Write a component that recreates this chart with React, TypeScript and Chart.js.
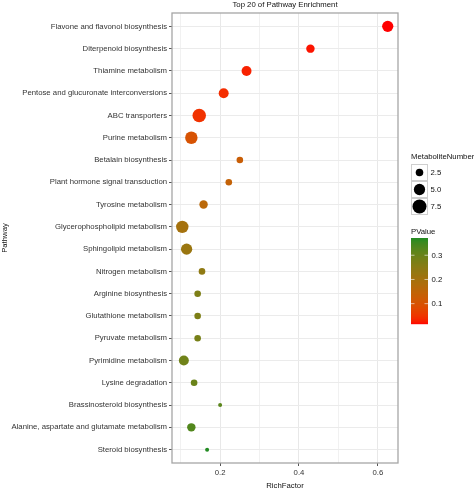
import React, { useEffect, useRef } from "react";
import { Chart, registerables } from "chart.js";
Chart.register(...registerables);

const pathways = [
  "Flavone and flavonol biosynthesis",
  "Diterpenoid biosynthesis",
  "Thiamine metabolism",
  "Pentose and glucuronate interconversions",
  "ABC transporters",
  "Purine metabolism",
  "Betalain biosynthesis",
  "Plant hormone signal transduction",
  "Tyrosine metabolism",
  "Glycerophospholipid metabolism",
  "Sphingolipid metabolism",
  "Nitrogen metabolism",
  "Arginine biosynthesis",
  "Glutathione metabolism",
  "Pyruvate metabolism",
  "Pyrimidine metabolism",
  "Lysine degradation",
  "Brassinosteroid biosynthesis",
  "Alanine, aspartate and glutamate metabolism",
  "Steroid biosynthesis",
];
const richFactor = [0.625, 0.429, 0.267, 0.209, 0.147, 0.127, 0.25, 0.222, 0.158, 0.104, 0.115, 0.154, 0.143, 0.143, 0.143, 0.108, 0.134, 0.2, 0.127, 0.167];
const metaboliteNumber = [5, 3, 4, 4, 7, 6, 2, 2, 3, 6, 5, 2, 2, 2, 2, 4, 2, 1, 3, 1];
const pValue = [0.016, 0.022, 0.03, 0.04, 0.045, 0.1, 0.13, 0.14, 0.16, 0.2, 0.22, 0.24, 0.27, 0.27, 0.28, 0.29, 0.3, 0.32, 0.33, 0.37];
const xTickValues = [0.1, 0.2, 0.3, 0.4, 0.5, 0.6];
const xMajorTicks = [0.2, 0.4, 0.6];
const sizeLegendValues = [2.5, 5.0, 7.5];
const pLegendTicks = [0.1, 0.2, 0.3];

const FONT = "'Liberation Sans', Arial, sans-serif";
const FS = 7.75;
const TEXT = "#333333";

function radius(v: number) {
  return Math.sqrt(Math.max(0.5, 6.92 * v - 2.92));
}

function s2l(c: number) {
  c /= 255;
  return c <= 0.04045 ? c / 12.92 : Math.pow((c + 0.055) / 1.055, 2.4);
}
function l2s(c: number) {
  const v = c <= 0.0031308 ? 12.92 * c : 1.055 * Math.pow(c, 1 / 2.4) - 0.055;
  return Math.round(Math.max(0, Math.min(1, v)) * 255);
}
function rgbToLab(rgb: number[]) {
  const R = s2l(rgb[0]), G = s2l(rgb[1]), B = s2l(rgb[2]);
  const X = (0.4124 * R + 0.3576 * G + 0.1805 * B) / 0.95047;
  const Y = 0.2126 * R + 0.7152 * G + 0.0722 * B;
  const Z = (0.0193 * R + 0.1192 * G + 0.9505 * B) / 1.08883;
  const f = (t: number) => (t > 0.008856 ? Math.cbrt(t) : 7.787 * t + 16 / 116);
  const fx = f(X), fy = f(Y), fz = f(Z);
  return [116 * fy - 16, 500 * (fx - fy), 200 * (fy - fz)];
}
function labToRgb(lab: number[]) {
  const fy = (lab[0] + 16) / 116;
  const fx = fy + lab[1] / 500;
  const fz = fy - lab[2] / 200;
  const finv = (t: number) => (t * t * t > 0.008856 ? t * t * t : (t - 16 / 116) / 7.787);
  const X = finv(fx) * 0.95047, Y = finv(fy), Z = finv(fz) * 1.08883;
  const R = 3.2406 * X - 1.5372 * Y - 0.4986 * Z;
  const G = -0.9689 * X + 1.8758 * Y + 0.0415 * Z;
  const B = 0.0557 * X - 0.204 * Y + 1.057 * Z;
  return [l2s(R), l2s(G), l2s(B)];
}
const LOW = rgbToLab([255, 0, 0]);
const HIGH = rgbToLab([34, 139, 34]);
const pMin = Math.min(...pValue);
const pMax = Math.max(...pValue);
function colorFor(p: number) {
  const t = Math.max(0, Math.min(1, (p - pMin) / (pMax - pMin)));
  const lab = [0, 1, 2].map((i) => LOW[i] + t * (HIGH[i] - LOW[i]));
  const c = labToRgb(lab);
  return `rgb(${c[0]},${c[1]},${c[2]})`;
}

const rfMin = Math.min(...richFactor);
const rfMax = Math.max(...richFactor);
const rfPad = (rfMax - rfMin) * 0.05;

const isMajor = (v: number) => xMajorTicks.some((m) => Math.abs(m - v) < 1e-9);

const overlay = {
  id: "overlay",
  afterDraw(chart: any) {
    const ctx = chart.ctx;
    const a = chart.chartArea;
    ctx.save();
    ctx.strokeStyle = "#a6a6a6";
    ctx.lineWidth = 1.3;
    ctx.strokeRect(a.left, a.top, a.right - a.left, a.bottom - a.top);

    ctx.fillStyle = "#111";
    ctx.font = `${FS}px ${FONT}`;
    ctx.textAlign = "center";
    ctx.textBaseline = "middle";
    ctx.fillText("Top 20 of Pathway Enrichment", (a.left + a.right) / 2, 4.5);
    ctx.fillText("RichFactor", (a.left + a.right) / 2, 486);
    ctx.save();
    ctx.translate(5, (a.top + a.bottom) / 2);
    ctx.rotate(-Math.PI / 2);
    ctx.fillText("Pathway", 0, 0);
    ctx.restore();

    const lx = 411;
    ctx.textAlign = "left";
    ctx.fillText("MetaboliteNumber", lx, 156.5);
    const boxW = 17, boxH = 17, top0 = 164;
    sizeLegendValues.forEach((v, i) => {
      const y = top0 + i * boxH;
      ctx.fillStyle = "#fff";
      ctx.fillRect(lx, y, boxW, boxH);
      ctx.strokeStyle = "#cfcfcf";
      ctx.lineWidth = 1;
      ctx.strokeRect(lx + 0.5, y + 0.5, boxW - 1, boxH - 1);
      ctx.fillStyle = "#000";
      ctx.beginPath();
      ctx.arc(lx + boxW / 2, y + boxH / 2, radius(v), 0, Math.PI * 2);
      ctx.fill();
      ctx.fillStyle = "#111";
      ctx.fillText(v.toFixed(1), lx + boxW + 2.5, y + boxH / 2 + 0.5);
    });

    ctx.fillText("PValue", lx, 231.5);
    const cbTop = 238.3, cbBot = 324, cbW = 17;
    const h = cbBot - cbTop;
    for (let k = 0; k < Math.ceil(h); k++) {
      const y = cbBot - k - 1;
      const p = pMin + ((k + 0.5) / h) * (pMax - pMin);
      ctx.fillStyle = colorFor(p);
      ctx.fillRect(lx, y, cbW, 1.2);
    }
    pLegendTicks.forEach((v) => {
      const y = cbBot - ((v - pMin) / (pMax - pMin)) * h;
      ctx.strokeStyle = "rgba(255,255,255,0.75)";
      ctx.lineWidth = 0.8;
      ctx.beginPath();
      ctx.moveTo(lx, y);
      ctx.lineTo(lx + 3.5, y);
      ctx.moveTo(lx + cbW - 3.5, y);
      ctx.lineTo(lx + cbW, y);
      ctx.stroke();
      ctx.fillStyle = "#111";
      ctx.fillText(v.toFixed(1), lx + cbW + 3.5, y + 0.5);
    });
    ctx.restore();
  },
};

export default function App() {
  const ref = useRef<HTMLCanvasElement | null>(null);
  useEffect(() => {
    if (!ref.current) return;
    const chart = new Chart(ref.current, {
      type: "scatter",
      data: {
        datasets: [
          {
            data: pathways.map((_, i) => ({ x: richFactor[i], y: i })),
            pointRadius: (c: any) => radius(metaboliteNumber[c.dataIndex]),
            pointBackgroundColor: (c: any) => colorFor(pValue[c.dataIndex]),
            pointBorderWidth: 0,
            pointBorderColor: "rgba(0,0,0,0)",
          } as any,
        ],
      },
      options: {
        responsive: false,
        animation: false,
        events: [],
        layout: { padding: { top: 13, right: 76, left: 0, bottom: 0 } },
        plugins: { legend: { display: false }, tooltip: { enabled: false }, title: { display: false } },
        scales: {
          x: {
            type: "linear",
            min: rfMin - rfPad,
            max: rfMax + rfPad,
            afterBuildTicks: (s: any) => {
              s.ticks = xTickValues.map((v) => ({ value: v }));
            },
            afterFit: (s: any) => {
              s.height = 27;
            },
            ticks: {
              autoSkip: false,
              maxRotation: 0,
              padding: 2,
              color: TEXT,
              font: { family: FONT, size: FS },
              callback: (v: any) => (isMajor(Number(v)) ? Number(v).toFixed(1) : ""),
            },
            grid: {
              color: (c: any) => (c.tick && isMajor(c.tick.value) ? "#e8e8e8" : "#f1f1f1"),
              lineWidth: 1,
              tickColor: (c: any) => (c.tick && isMajor(c.tick.value) ? "#555" : "rgba(0,0,0,0)"),
              tickLength: 3,
              drawTicks: true,
            },
            border: { display: false },
          },
          y: {
            type: "linear",
            reverse: true,
            min: -0.6,
            max: pathways.length - 0.4,
            afterBuildTicks: (s: any) => {
              s.ticks = pathways.map((_, i) => ({ value: i }));
            },
            afterFit: (s: any) => {
              s.width = 172;
            },
            ticks: {
              autoSkip: false,
              padding: 2,
              color: TEXT,
              font: { family: FONT, size: FS },
              callback: (v: any) => pathways[Math.round(Number(v))] ?? "",
            },
            grid: {
              color: "#ebebeb",
              lineWidth: 1,
              tickColor: "#555",
              tickLength: 3,
              drawTicks: true,
            },
            border: { display: false },
          },
        },
      },
      plugins: [overlay],
    } as any);
    return () => chart.destroy();
  }, []);
  return (
    <div style={{ position: "fixed", left: 0, top: 0, width: 474, height: 490, background: "#fff" }}>
      <canvas ref={ref} width={474} height={490} style={{ display: "block", width: 474, height: 490 }} />
    </div>
  );
}
